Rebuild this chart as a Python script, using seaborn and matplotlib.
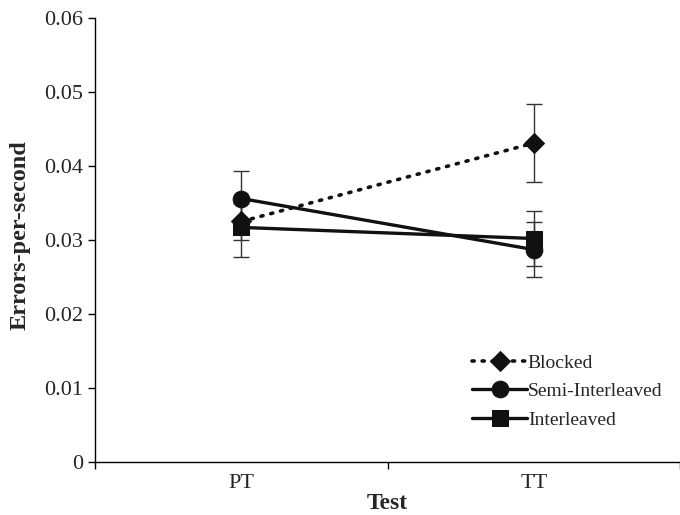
import numpy as np
import pandas as pd
import matplotlib
matplotlib.use('Agg')
import matplotlib.pyplot as plt
import seaborn as sns

# data
tests = ['PT', 'TT']
conditions = ['Blocked', 'Semi-Interleaved', 'Interleaved']
blocked = [0.0325, 0.0431]
semi_interleaved = [0.0356, 0.0287]
interleaved = [0.0317, 0.0302]
blocked_err = [0.0025, 0.0053]
semi_err = [0.0037, 0.0037]
inter_err = [0.0040, 0.0037]

df = pd.DataFrame({
    'Test': tests * 3,
    'Condition': np.repeat(conditions, 2),
    'Errors': blocked + semi_interleaved + interleaved,
    'Err': blocked_err + semi_err + inter_err,
})

sns.set_style('ticks')
plt.rcParams['font.family'] = ['Liberation Serif', 'DejaVu Serif']

fig = plt.figure(figsize=(6.8, 5.15), dpi=100)
ax = fig.add_axes([0.14, 0.103, 0.86, 0.862])

markers = {'Blocked': 'D', 'Semi-Interleaved': 'o', 'Interleaved': 's'}
msizes = {'Blocked': 10, 'Semi-Interleaved': 12, 'Interleaved': 11}
styles = {'Blocked': (0, (0.6, 2.2)), 'Semi-Interleaved': '-', 'Interleaved': '-'}
xpos = {t: i for i, t in enumerate(tests)}

for cond in conditions:
    sub = df[df.Condition == cond]
    xs = [xpos[t] for t in sub.Test]
    ax.errorbar(xs, sub.Errors, yerr=sub.Err, fmt='none', ecolor='#333333',
                elinewidth=1.0, capsize=6, capthick=1.0, zorder=2)

for cond in conditions:
    sub = df[df.Condition == cond]
    sns.lineplot(x=[xpos[t] for t in sub.Test], y=sub.Errors.values, ax=ax,
                 color='#111111', marker=markers[cond], markersize=msizes[cond],
                 markeredgecolor='#111111', linestyle=styles[cond],
                 dash_capstyle='round',
                 linewidth=2.4 if cond != 'Blocked' else 2.6,
                 label=cond, zorder=3)

ax.set_xlim(-0.5, 1.5)
ax.set_ylim(0, 0.06)
ax.set_yticks(np.arange(0, 0.061, 0.01))
ax.set_yticklabels(['0', '0.01', '0.02', '0.03', '0.04', '0.05', '0.06'])
ax.set_xticks(range(len(tests)))
ax.set_xticklabels(tests)
ax.set_xticks([-0.5, 0.5, 1.5], minor=True)
ax.tick_params(axis='x', which='major', length=0, pad=9, labelsize=16)
ax.tick_params(axis='x', which='minor', length=5, width=1, color='black')
ax.tick_params(axis='y', length=5, width=1, labelsize=16, color='black')
sns.despine(ax=ax, right=True, top=True)
for s in ['left', 'bottom']:
    ax.spines[s].set_linewidth(1.0)
    ax.spines[s].set_color('black')

ax.set_xlabel('Test', fontsize=17, fontweight='bold', labelpad=0)
ax.set_ylabel('Errors-per-second', fontsize=17.5, fontweight='bold')
ax.yaxis.set_label_coords(-0.11, 0.51)

ax.legend(loc='upper left', bbox_to_anchor=(0.645, 0.243), frameon=False,
          fontsize=14, handlelength=2.8, handletextpad=0.05, labelspacing=0.56,
          borderpad=0, borderaxespad=0)

fig.savefig('out.png', dpi=100)
